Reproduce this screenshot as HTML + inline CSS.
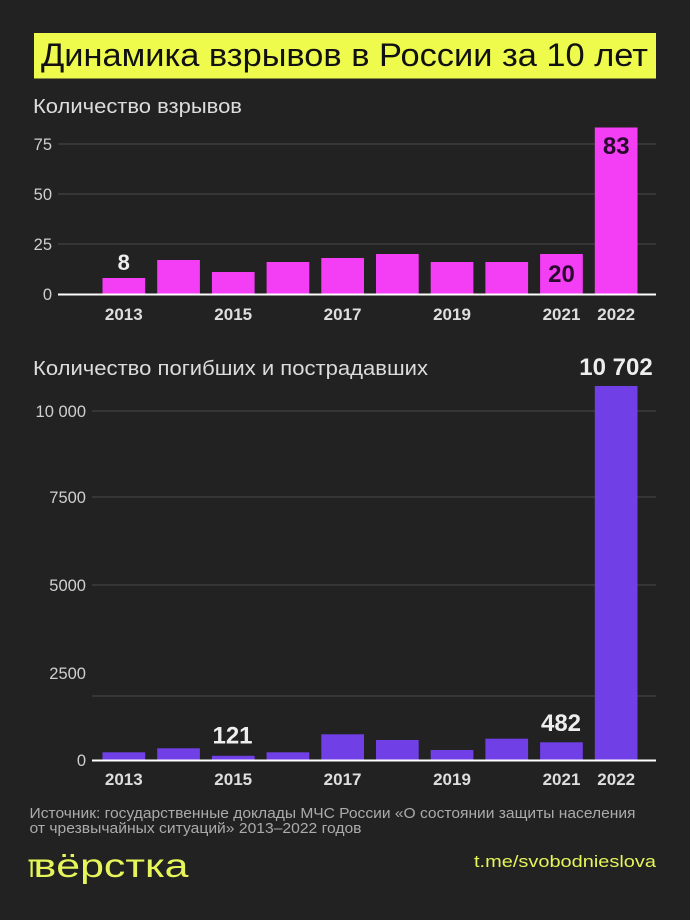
<!DOCTYPE html>
<html>
<head>
<meta charset="utf-8">
<style>
html,body{margin:0;padding:0;background:#222222;}
svg{display:block;}
text{font-family:"Liberation Sans","DejaVu Sans",sans-serif;}
</style>
</head>
<body>
<svg width="690" height="920" viewBox="0 0 690 920" xmlns="http://www.w3.org/2000/svg">
<rect x="0" y="0" width="690" height="920" fill="#222222"/>

<!-- Title -->
<rect x="34" y="33" width="622" height="45.5" fill="#eefb4d"/>
<text x="41" y="66" font-size="32" fill="#111" textLength="607" lengthAdjust="spacingAndGlyphs">Динамика взрывов в России за 10 лет</text>

<!-- Subtitle 1 -->
<text x="33" y="113" font-size="20" fill="#dcdcdc" textLength="209" lengthAdjust="spacingAndGlyphs">Количество взрывов</text>

<!-- Top chart grid -->
<g stroke="#3c3c3c" stroke-width="1.5">
<line x1="58" y1="144" x2="656" y2="144"/>
<line x1="58" y1="194" x2="656" y2="194"/>
<line x1="58" y1="244" x2="656" y2="244"/>
</g>
<g font-size="16.5" fill="#cfcfcf" text-anchor="end">
<text x="52" y="150">75</text>
<text x="52" y="200">50</text>
<text x="52" y="250">25</text>
<text x="52" y="300">0</text>
</g>

<!-- Top bars -->
<g fill="#f43ef6">
<rect x="102.5" y="278" width="42.7" height="16"/>
<rect x="157.2" y="260" width="42.7" height="34"/>
<rect x="211.9" y="272" width="42.7" height="22"/>
<rect x="266.6" y="262" width="42.7" height="32"/>
<rect x="321.3" y="258" width="42.7" height="36"/>
<rect x="376.0" y="254" width="42.7" height="40"/>
<rect x="430.7" y="262" width="42.7" height="32"/>
<rect x="485.4" y="262" width="42.7" height="32"/>
<rect x="540.1" y="254" width="42.7" height="40"/>
<rect x="594.8" y="127.5" width="42.7" height="166.5"/>
</g>
<line x1="58" y1="294.5" x2="656" y2="294.5" stroke="#ffffff" stroke-width="2"/>

<g font-size="22" font-weight="bold" text-anchor="middle">
<text x="123.8" y="270" fill="#eeeeee">8</text>
<text x="616.2" y="154" fill="#2a0b2e" font-size="24">83</text>
<text x="561.5" y="282" fill="#2a0b2e" font-size="24">20</text>
</g>

<g font-size="17" font-weight="bold" fill="#dedede" text-anchor="middle">
<text x="123.8" y="320">2013</text>
<text x="233.2" y="320">2015</text>
<text x="342.6" y="320">2017</text>
<text x="452.0" y="320">2019</text>
<text x="561.5" y="320">2021</text>
<text x="616.2" y="320">2022</text>
</g>

<!-- Subtitle 2 -->
<text x="33" y="375" font-size="20" fill="#dcdcdc" textLength="395" lengthAdjust="spacingAndGlyphs">Количество погибших и пострадавших</text>

<!-- Bottom chart grid -->
<g stroke="#3c3c3c" stroke-width="1.5">
<line x1="92" y1="411" x2="656" y2="411"/>
<line x1="92" y1="497" x2="656" y2="497"/>
<line x1="92" y1="585" x2="656" y2="585"/>
<line x1="92" y1="696" x2="656" y2="696"/>
</g>
<g font-size="16.5" fill="#cfcfcf" text-anchor="end">
<text x="86" y="417">10 000</text>
<text x="86" y="503">7500</text>
<text x="86" y="591">5000</text>
<text x="86" y="679">2500</text>
<text x="86" y="766">0</text>
</g>

<!-- Bottom bars -->
<g fill="#7040e6">
<rect x="102.5" y="752.3" width="42.7" height="7.7"/>
<rect x="157.2" y="748.3" width="42.7" height="11.7"/>
<rect x="211.9" y="755.8" width="42.7" height="4.2"/>
<rect x="266.6" y="752.3" width="42.7" height="7.7"/>
<rect x="321.3" y="734.3" width="42.7" height="25.7"/>
<rect x="376.0" y="740" width="42.7" height="20"/>
<rect x="430.7" y="750" width="42.7" height="10"/>
<rect x="485.4" y="738.7" width="42.7" height="21.3"/>
<rect x="540.1" y="742.3" width="42.7" height="17.7"/>
<rect x="594.8" y="386" width="42.7" height="374"/>
</g>
<line x1="92" y1="760.5" x2="656" y2="760.5" stroke="#ffffff" stroke-width="2"/>

<g font-size="24" font-weight="bold" fill="#eeeeee" text-anchor="middle">
<text x="232.5" y="743.5">121</text>
<text x="561" y="731">482</text>
<text x="616" y="375">10 702</text>
</g>

<g font-size="17" font-weight="bold" fill="#dedede" text-anchor="middle">
<text x="123.8" y="785">2013</text>
<text x="233.2" y="785">2015</text>
<text x="342.6" y="785">2017</text>
<text x="452.0" y="785">2019</text>
<text x="561.5" y="785">2021</text>
<text x="616.2" y="785">2022</text>
</g>

<!-- Source -->
<g font-size="15" fill="#ababab">
<text x="29.5" y="818" textLength="606" lengthAdjust="spacingAndGlyphs">Источник: государственные доклады МЧС России «О состоянии защиты населения</text>
<text x="29.5" y="833" textLength="332" lengthAdjust="spacingAndGlyphs">от чрезвычайных ситуаций» 2013–2022 годов</text>
</g>

<!-- Logo -->
<g fill="#e6f55a">
<rect x="28.5" y="859.5" width="8" height="2"/>
<rect x="30.5" y="859.5" width="2.2" height="17.5"/>
<text x="33.5" y="877" font-size="33" textLength="155" lengthAdjust="spacingAndGlyphs">вёрстка</text>
<text x="474" y="867" font-size="17" textLength="182" lengthAdjust="spacingAndGlyphs">t.me/svobodnieslova</text>
</g>
</svg>
</body>
</html>
